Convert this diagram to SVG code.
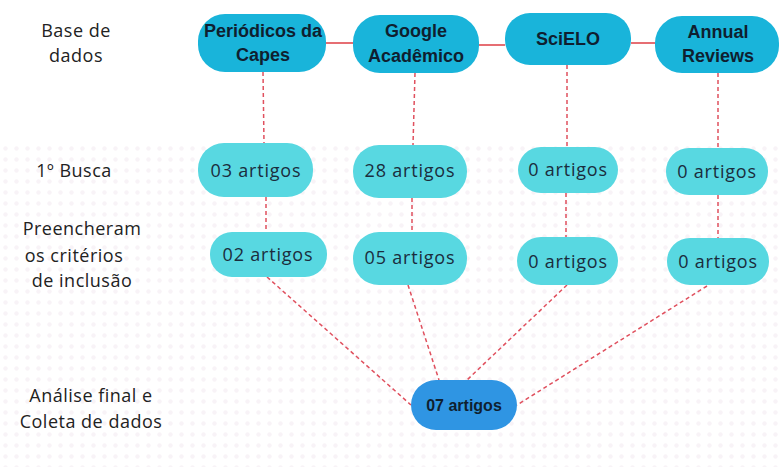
<svg xmlns="http://www.w3.org/2000/svg" width="781" height="467" viewBox="0 0 781 467">
<defs>
<pattern id="dots" x="0" y="0" width="11" height="11" patternUnits="userSpaceOnUse">
<circle cx="5.5" cy="5.5" r="2.2" fill="#f8f3f7"/>
</pattern>
<style>
.db{fill:#19b4da}
.mid{fill:#58d8e1}
.fin{fill:#2f95e3}
.tdb{font-family:"Liberation Sans",Arial,sans-serif;font-weight:bold;font-size:18px;fill:#0f1f30;text-anchor:middle}
.tmid{font-family:"Open Sans","Liberation Sans",sans-serif;font-size:18px;letter-spacing:0.8px;fill:#1b2d3d;text-anchor:middle}
.tfin{font-family:"Liberation Sans",Arial,sans-serif;font-weight:bold;font-size:16px;fill:#0f1f30;text-anchor:middle}
.lbl{font-family:"Open Sans","Liberation Sans",sans-serif;font-size:18px;letter-spacing:0.5px;fill:#222222}
.solid{stroke:#e04a50;stroke-width:1.6;fill:none}
.dash{stroke:#e0505e;stroke-width:1.5;stroke-dasharray:4 3;fill:none}
</style>
</defs>
<rect width="781" height="467" fill="#ffffff"/>
<rect x="0" y="140" width="781" height="327" fill="url(#dots)"/>

<g id="connectors">
<line class="solid" x1="326" y1="43" x2="353" y2="43"/>
<line class="solid" x1="479" y1="45" x2="505" y2="45"/>
<line class="solid" x1="631" y1="43" x2="655" y2="43"/>
<line class="dash" x1="263" y1="72" x2="264" y2="143"/>
<line class="dash" x1="266" y1="197" x2="266" y2="232"/>
<line class="dash" x1="415" y1="73" x2="413" y2="145"/>
<line class="dash" x1="412" y1="198" x2="412" y2="232"/>
<line class="dash" x1="567" y1="65" x2="567" y2="147"/>
<line class="dash" x1="566" y1="193" x2="566" y2="237"/>
<line class="dash" x1="718" y1="73" x2="718" y2="148"/>
<line class="dash" x1="718" y1="195" x2="718" y2="238"/>
<line class="dash" x1="267" y1="277" x2="411" y2="405"/>
<line class="dash" x1="408" y1="285" x2="439" y2="380"/>
<line class="dash" x1="567" y1="285" x2="467" y2="380"/>
<line class="dash" x1="707" y1="286" x2="517" y2="405"/>
</g>

<g id="labels">
<text class="lbl" x="76" y="37" text-anchor="middle">Base de</text>
<text class="lbl" x="76" y="62" text-anchor="middle">dados</text>
<text class="lbl" x="74" y="177" text-anchor="middle">1º Busca</text>
<text class="lbl" x="82" y="235" text-anchor="middle">Preencheram</text>
<text class="lbl" x="74" y="262" text-anchor="middle">os critérios</text>
<text class="lbl" x="82" y="287" text-anchor="middle">de inclusão</text>
<text class="lbl" x="91" y="402" text-anchor="middle">Análise final e</text>
<text class="lbl" x="91" y="428" text-anchor="middle">Coleta de dados</text>
</g>

<g id="periodicos">
<rect class="db" x="198" y="14" width="128" height="58" rx="27"/>
<text class="tdb" x="263" y="37">Periódicos da</text>
<text class="tdb" x="263" y="61">Capes</text>
</g>
<g id="google">
<rect class="db" x="353" y="15" width="126" height="58" rx="27"/>
<text class="tdb" x="416" y="37">Google</text>
<text class="tdb" x="416" y="62">Acadêmico</text>
</g>
<g id="scielo">
<rect class="db" x="505" y="13" width="126" height="52" rx="25"/>
<text class="tdb" x="568" y="45">SciELO</text>
</g>
<g id="annual">
<rect class="db" x="655" y="16" width="124" height="57" rx="27"/>
<text class="tdb" x="718" y="38">Annual</text>
<text class="tdb" x="718" y="62">Reviews</text>
</g>

<g id="busca-periodicos">
<rect class="mid" x="198" y="143" width="115" height="54" rx="26"/>
<text class="tmid" x="256" y="177">03 artigos</text>
</g>
<g id="busca-google">
<rect class="mid" x="353" y="145" width="114" height="53" rx="26"/>
<text class="tmid" x="410" y="177">28 artigos</text>
</g>
<g id="busca-scielo">
<rect class="mid" x="518" y="147" width="100" height="46" rx="23"/>
<text class="tmid" x="568" y="176">0 artigos</text>
</g>
<g id="busca-annual">
<rect class="mid" x="666" y="148" width="102" height="47" rx="23"/>
<text class="tmid" x="717" y="178">0 artigos</text>
</g>

<g id="incl-periodicos">
<rect class="mid" x="210" y="232" width="117" height="45" rx="22"/>
<text class="tmid" x="268" y="261">02 artigos</text>
</g>
<g id="incl-google">
<rect class="mid" x="353" y="232" width="114" height="53" rx="26"/>
<text class="tmid" x="410" y="264">05 artigos</text>
</g>
<g id="incl-scielo">
<rect class="mid" x="517" y="237" width="101" height="48" rx="24"/>
<text class="tmid" x="568" y="268">0 artigos</text>
</g>
<g id="incl-annual">
<rect class="mid" x="667" y="238" width="102" height="47" rx="23"/>
<text class="tmid" x="718" y="268">0 artigos</text>
</g>

<g id="final">
<rect class="fin" x="411" y="380" width="106" height="50" rx="25"/>
<text class="tfin" x="464" y="411">07 artigos</text>
</g>
</svg>
